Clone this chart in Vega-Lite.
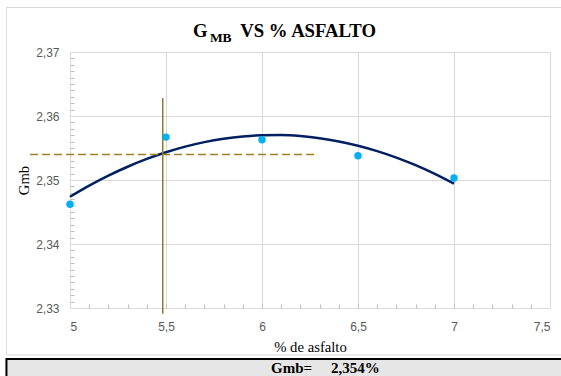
{
  "$schema": "https://vega.github.io/schema/vega-lite/v6.json",
  "autosize": "none",
  "width": 480,
  "height": 256,
  "padding": {"left": 70, "top": 52, "right": 11, "bottom": 68},
  "background": "white",
  "config": {"view": {"stroke": null}},
  "title": {
    "text": "G\u00a0\u00a0\u00a0\u00a0\u00a0\u00a0\u00a0VS % ASFALTO",
    "subtitle": "\u200b\u00a0\u00a0\u00a0\u00a0\u00a0MB",
    "anchor": "start",
    "frame": "group",
    "dx": 123,
    "font": "Liberation Serif",
    "fontSize": 18.7,
    "fontWeight": "bold",
    "color": "black",
    "subtitleFont": "Liberation Serif",
    "subtitleFontSize": 13.5,
    "subtitleFontWeight": "bold",
    "subtitleColor": "black",
    "subtitlePadding": -10,
    "offset": -37
  },
  "datasets": {
    "curve": [
      {"x": 5.0, "y": 2.34738}, {"x": 5.1, "y": 2.34912}, {"x": 5.2, "y": 2.35068},
      {"x": 5.3, "y": 2.35207}, {"x": 5.4, "y": 2.35329}, {"x": 5.5, "y": 2.35434},
      {"x": 5.6, "y": 2.35522}, {"x": 5.7, "y": 2.35592}, {"x": 5.8, "y": 2.35645},
      {"x": 5.9, "y": 2.35681}, {"x": 6.0, "y": 2.35700}, {"x": 6.1, "y": 2.35702},
      {"x": 6.2, "y": 2.35686}, {"x": 6.3, "y": 2.35653}, {"x": 6.4, "y": 2.35603},
      {"x": 6.5, "y": 2.35536}, {"x": 6.6, "y": 2.35452}, {"x": 6.7, "y": 2.35350},
      {"x": 6.8, "y": 2.35231}, {"x": 6.9, "y": 2.35095}, {"x": 7.0, "y": 2.34942}
    ],
    "pts": [
      {"x": 5.0, "y": 2.3462}, {"x": 5.5, "y": 2.3567}, {"x": 6.0, "y": 2.3563},
      {"x": 6.5, "y": 2.3538}, {"x": 7.0, "y": 2.3503}
    ],
    "vline": [{"x": 5.483, "y": 2.3628}, {"x": 5.483, "y": 2.3291}],
    "hline": [{"x": 4.792, "y": 2.354}, {"x": 6.271, "y": 2.354}]
  },
  "resolve": {"axis": {"x": "independent", "y": "independent"}},
  "layer": [
    {
      "data": {"values": [{}]},
      "mark": {"type": "rect", "fill": null, "stroke": "#D9D9D9", "strokeWidth": 1, "clip": false},
      "encoding": {
        "x": {"datum": 4.669, "type": "quantitative", "axis": null},
        "x2": {"datum": 7.65},
        "y": {"datum": 2.37695, "type": "quantitative", "axis": null},
        "y2": {"datum": 2.32266}
      }
    },
    {
      "data": {"name": "curve"},
      "mark": {"type": "line", "color": "#002060", "strokeWidth": 2.5, "interpolate": "monotone"},
      "encoding": {
        "x": {
          "field": "x", "type": "quantitative",
          "scale": {"domain": [5, 7.5], "nice": false, "zero": false},
          "axis": {
            "values": [5, 5.5, 6, 6.5, 7, 7.5],
            "format": ".1~f",
            "labelExpr": "replace(datum.label, '.', ',')",
            "grid": true, "gridColor": "#D9D9D9",
            "domainColor": "#D9D9D9",
            "ticks": false,
            "labelFont": "Liberation Sans", "labelFontSize": 12, "labelColor": "#595959",
            "labelPadding": 13,
            "title": "% de asfalto",
            "titleFont": "Liberation Serif", "titleFontSize": 14.7, "titleFontWeight": "normal",
            "titleColor": "black", "titlePadding": 7
          }
        },
        "y": {
          "field": "y", "type": "quantitative",
          "scale": {"domain": [2.33, 2.37], "nice": false, "zero": false},
          "axis": {
            "values": [2.33, 2.34, 2.35, 2.36, 2.37],
            "labelExpr": "replace(format(datum.value, '.2f'), '.', ',')",
            "grid": true, "gridColor": "#D9D9D9",
            "domainColor": "#D9D9D9",
            "ticks": false,
            "labelFont": "Liberation Sans", "labelFontSize": 12, "labelColor": "#595959",
            "labelPadding": 11,
            "title": "Gmb",
            "titleFont": "Liberation Serif", "titleFontSize": 14.7, "titleFontWeight": "normal",
            "titleColor": "black", "titlePadding": 4
          }
        }
      }
    },
    {
      "data": {"name": "vline"},
      "mark": {"type": "line", "color": "#8C7A32", "strokeWidth": 1.5, "clip": false},
      "encoding": {
        "x": {"field": "x", "type": "quantitative", "axis": null},
        "y": {"field": "y", "type": "quantitative", "axis": null}
      }
    },
    {
      "data": {"name": "hline"},
      "mark": {"type": "line", "color": "#A08024", "strokeWidth": 1.5, "strokeDash": [8, 4], "clip": false},
      "encoding": {
        "x": {"field": "x", "type": "quantitative", "axis": null},
        "y": {"field": "y", "type": "quantitative", "axis": null}
      }
    },
    {
      "data": {"name": "pts"},
      "mark": {"type": "circle", "color": "#00B0F0", "opacity": 1, "size": 55},
      "encoding": {
        "x": {
          "field": "x", "type": "quantitative",
          "axis": {
            "orient": "bottom",
            "values": [5.1, 5.2, 5.3, 5.4, 5.5, 5.6, 5.7, 5.8, 5.9, 6.0, 6.1, 6.2, 6.3, 6.4, 6.5, 6.6, 6.7, 6.8, 6.9, 7.0, 7.1, 7.2, 7.3, 7.4],
            "labels": false, "grid": false, "domain": false,
            "ticks": true, "tickSize": -4, "tickColor": "#BFBFBF", "title": null
          }
        },
        "y": {
          "field": "y", "type": "quantitative",
          "axis": {
            "orient": "left",
            "values": [2.331, 2.332, 2.333, 2.334, 2.335, 2.336, 2.337, 2.338, 2.339, 2.341, 2.342, 2.343, 2.344, 2.345, 2.346, 2.347, 2.348, 2.349, 2.351, 2.352, 2.353, 2.354, 2.355, 2.356, 2.357, 2.358, 2.359, 2.361, 2.362, 2.363, 2.364, 2.365, 2.366, 2.367, 2.368, 2.369],
            "labels": false, "grid": false, "domain": false,
            "ticks": true, "tickSize": -4, "tickColor": "#BFBFBF", "title": null
          }
        }
      }
    },
    {
      "data": {"values": [{}]},
      "mark": {"type": "rect", "fill": "#E6E6E6", "stroke": "black", "strokeWidth": 2, "clip": false},
      "encoding": {
        "x": {"datum": 4.669, "type": "quantitative", "axis": null},
        "x2": {"datum": 7.65},
        "y": {"datum": 2.32203, "type": "quantitative", "axis": null},
        "y2": {"datum": 2.3175}
      }
    },
    {
      "data": {"values": [{}]},
      "mark": {"type": "text", "font": "Liberation Serif", "fontSize": 15, "fontWeight": "bold", "color": "black", "align": "center", "baseline": "middle", "clip": false},
      "encoding": {
        "x": {"datum": 6.33, "type": "quantitative", "axis": null},
        "y": {"datum": 2.32065, "type": "quantitative", "axis": null},
        "text": {"value": "Gmb=\u00a0\u00a0\u00a0\u00a0\u00a02,354%"}
      }
    }
  ]
}
